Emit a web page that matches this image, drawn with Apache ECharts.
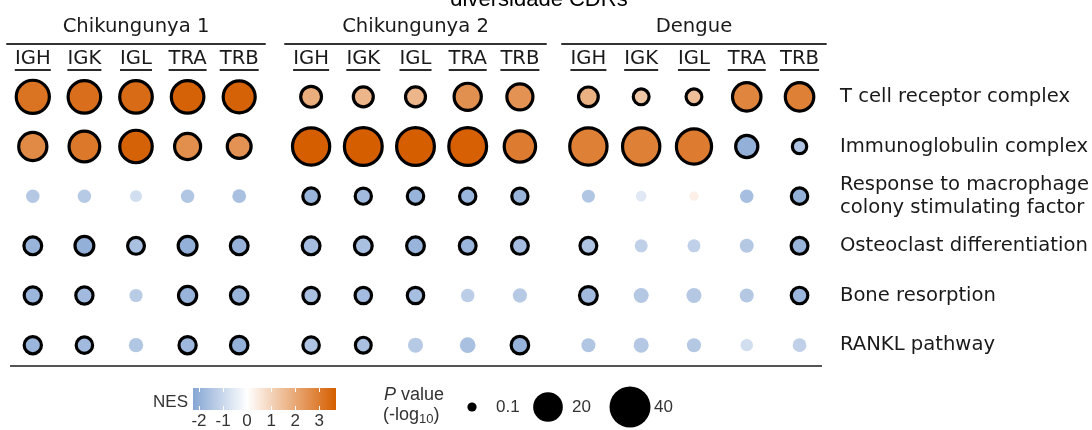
<!DOCTYPE html>
<html>
<head>
<meta charset="utf-8">
<script src="https://cdn.jsdelivr.net/npm/echarts@6/dist/echarts.min.js"></script>
<style>
  html, body { margin: 0; padding: 0; background: #ffffff; }
  #chart { width: 1092px; height: 430px; }
</style>
</head>
<body>
<div id="chart"></div>
<script>
// ---- data -------------------------------------------------------------
const groups = ['Chikungunya 1', 'Chikungunya 2', 'Dengue'];
const genes = ['IGH', 'IGK', 'IGL', 'TRA', 'TRB'];
const pathways = [
  'T cell receptor complex',
  'Immunoglobulin complex',
  'Response to macrophage\ncolony stimulating factor',
  'Osteoclast differentiation',
  'Bone resorption',
  'RANKL pathway'
];

// NES, rows = pathways, columns = genes
const nesChik1 = [
  [3.2, 3.3, 3.4, 3.6, 3.6],
  [2.7, 3.1, 3.6, 2.6, 2.5],
  [-1.4, -1.35, -0.85, -1.45, -1.6],
  [-1.9, -2.0, -1.6, -2.0, -1.95],
  [-1.85, -1.75, -1.3, -1.9, -1.9],
  [-1.85, -1.75, -1.45, -1.8, -2.0]
];
const nesChik2 = [
  [1.9, 1.7, 1.7, 2.55, 2.5],
  [3.7, 3.7, 3.7, 3.65, 3.0],
  [-1.9, -1.75, -1.9, -1.85, -1.9],
  [-1.7, -1.6, -1.9, -1.85, -1.7],
  [-1.6, -1.7, -1.65, -1.25, -1.35],
  [-1.5, -1.6, -1.35, -1.6, -1.95]
];
const nesDengue = [
  [1.8, 1.3, 1.5, 2.8, 2.9],
  [2.9, 2.9, 3.0, -2.0, -1.5],
  [-1.45, -0.6, 0.35, -1.65, -2.0],
  [-1.5, -1.2, -1.2, -1.4, -1.9],
  [-1.75, -1.4, -1.4, -1.4, -1.85],
  [-1.45, -1.4, -1.4, -0.85, -1.2]
];

// P value (-log10)
const pvalChik1 = [
  [31, 30, 30, 30, 29],
  [22.6, 26.7, 29.8, 19.4, 16.3],
  [2.5, 2.5, 1.5, 2.5, 2.7],
  [9, 10.1, 8, 10.1, 9],
  [8.4, 8.4, 2.3, 9.4, 8.7],
  [8.4, 7.6, 3.1, 8.4, 8.7]
];
const pvalChik2 = [
  [12.4, 11.4, 11.4, 21.1, 19.4],
  [38.8, 40, 40, 40, 27.9],
  [7.8, 7.4, 7.6, 7.5, 7.4],
  [9, 9, 9, 8, 8],
  [7.6, 7.6, 7.6, 2.6, 3.1],
  [7.6, 7, 3.6, 4.1, 8.7]
];
const pvalDengue = [
  [11.1, 7, 7, 23.1, 23.1],
  [39, 39, 34.8, 14.1, 5.7],
  [2.2, 0.8, 0.1, 2.5, 7.6],
  [8, 2.2, 2.2, 2.9, 8],
  [9, 3.6, 3.6, 2.9, 7.7],
  [2.9, 3.6, 2.9, 1.8, 2.7]
];

// significant enrichment (outlined dot)
const sigChik1 = [
  [1, 1, 1, 1, 1], [1, 1, 1, 1, 1], [0, 0, 0, 0, 0],
  [1, 1, 1, 1, 1], [1, 1, 0, 1, 1], [1, 1, 0, 1, 1]
];
const sigChik2 = [
  [1, 1, 1, 1, 1], [1, 1, 1, 1, 1], [1, 1, 1, 1, 1],
  [1, 1, 1, 1, 1], [1, 1, 1, 0, 0], [1, 1, 0, 0, 1]
];
const sigDengue = [
  [1, 1, 1, 1, 1], [1, 1, 1, 1, 1], [0, 0, 0, 0, 1],
  [1, 0, 0, 0, 1], [1, 0, 0, 0, 1], [0, 0, 0, 0, 0]
];

const nesTicks = [-2, -1, 0, 1, 2, 3];
const sizeLegendValues = [0.1, 20, 40];

// ---- scales ------------------------------------------------------------
const nesMin = -2.25, nesMax = 3.7;
const blueEnd = [134, 166, 212], orangeEnd = [213, 94, 0];
function nesColor(v) {
  const t = v < 0 ? Math.min(1, v / nesMin) : Math.min(1, v / nesMax);
  const end = v < 0 ? blueEnd : orangeEnd;
  return 'rgb(' + end.map(c => Math.round(255 + (c - 255) * t)).join(',') + ')';
}
const palette = Array.from({ length: 80 }, (_, i) => nesColor(nesMin + (nesMax - nesMin) * i / 79));

const BORDER = 3.2;
function dotDiameter(p) { return Math.sqrt(81 + 40 * p); }

// ---- layout ------------------------------------------------------------
const FONT = 'DejaVu Sans';
const LEGEND_FONT = 'Liberation Sans';
const TEXT = '#1a1a1a';
const LABEL_SIZE = 19.6;
const gridLeft = [7, 285, 562];
const gridWidth = [258, 261, 264];
const gridTop = 72, gridHeight = 298;

// underline width for each gene label = its text width
const measureCtx = document.createElement('canvas').getContext('2d');
measureCtx.font = LABEL_SIZE + 'px "' + FONT + '"';
const geneRich = { t: { fontFamily: FONT, fontSize: LABEL_SIZE, color: TEXT, lineHeight: 20 } };
genes.forEach(gn => {
  geneRich['u' + gn] = { width: Math.round(measureCtx.measureText(gn).width), height: 2, backgroundColor: '#2b2b2b' };
});

const nesSets = [nesChik1, nesChik2, nesDengue];
const pvalSets = [pvalChik1, pvalChik2, pvalDengue];
const sigSets = [sigChik1, sigChik2, sigDengue];

const grids = [], xAxes = [], yAxes = [], series = [];

groups.forEach((name, g) => {
  grids.push({ left: gridLeft[g], top: gridTop, width: gridWidth[g], height: gridHeight });

  // gene labels with underline
  xAxes.push({
    gridIndex: g, type: 'category', data: genes, position: 'top',
    axisLine: { show: false }, axisTick: { show: false }, splitLine: { show: false },
    axisLabel: {
      interval: 0, hideOverlap: false, margin: 1,
      formatter: v => '{t|' + v + '}\n{u' + v + '|}',
      rich: geneRich
    }
  });
  // group header line and title
  xAxes.push({
    gridIndex: g, type: 'category', data: genes, position: 'top', offset: 28,
    axisLine: { show: true, lineStyle: { color: '#333', width: 2 } },
    axisTick: { show: false }, axisLabel: { show: false }, splitLine: { show: false },
    name: name, nameLocation: 'middle', nameGap: 7,
    nameTextStyle: { fontFamily: FONT, fontSize: LABEL_SIZE, color: TEXT }
  });

  yAxes.push({
    gridIndex: g, type: 'category', data: pathways, inverse: true,
    position: 'right',
    axisLine: { show: false }, axisTick: { show: false }, splitLine: { show: false },
    axisLabel: g === 2 ? {
      show: true, interval: 0, margin: 14, align: 'left',
      fontFamily: FONT, fontSize: LABEL_SIZE, color: TEXT, lineHeight: 23
    } : { show: false }
  });

  const data = [];
  pathways.forEach((_, r) => {
    genes.forEach((_, c) => {
      const sig = sigSets[g][r][c];
      data.push({
        value: [c, r, nesSets[g][r][c], pvalSets[g][r][c], sig],
        itemStyle: { borderColor: '#000000', borderWidth: sig ? BORDER : 0 }
      });
    });
  });
  series.push({
    type: 'scatter', xAxisIndex: g * 2, yAxisIndex: g, data: data,
    symbol: 'circle',
    symbolSize: v => v[4] ? dotDiameter(v[3]) - BORDER : dotDiameter(v[3]),
    itemStyle: { opacity: 1 },
    encode: { x: 0, y: 1 },
    silent: true
  });
});

// colour bar for NES
grids.push({ left: 193, top: 388, width: 143, height: 27 });
xAxes.push({
  gridIndex: 3, type: 'value', min: nesMin, max: nesMax, position: 'bottom', z: 5,
  axisLine: { show: false }, splitLine: { show: false },
  axisTick: { show: true, inside: true, length: 4, lineStyle: { color: '#ffffff', width: 1 }, customValues: nesTicks },
  axisLabel: { customValues: nesTicks, margin: 3, fontFamily: LEGEND_FONT, fontSize: 17, color: '#333' }
});
xAxes.push({
  gridIndex: 3, type: 'value', min: nesMin, max: nesMax, position: 'top', z: 5,
  axisLine: { show: false }, splitLine: { show: false },
  axisTick: { show: true, inside: true, length: 4, lineStyle: { color: '#ffffff', width: 1 }, customValues: nesTicks },
  axisLabel: { show: false }
});
yAxes.push({ gridIndex: 3, type: 'value', min: 0, max: 1, show: false });
series.push({
  type: 'custom', xAxisIndex: 6, yAxisIndex: 3, silent: true, z: 1,
  data: [[nesMin, nesMax]],
  encode: { x: [0, 1] },
  renderItem: (params, api) => {
    const s = api.coord([api.value(0), 0]);
    const e = api.coord([api.value(1), 1]);
    return {
      type: 'rect',
      shape: { x: s[0], y: e[1], width: e[0] - s[0], height: s[1] - e[1] },
      style: {
        fill: new echarts.graphic.LinearGradient(0, 0, 1, 0,
          palette.map((c, i) => ({ offset: i / (palette.length - 1), color: c })))
      }
    };
  }
});

// size legend
const legendDotX = [472, 548, 630];
const legendY = 407;
const sizeLegend = [];
sizeLegendValues.forEach((p, i) => {
  const r = dotDiameter(p) / 2;
  sizeLegend.push({ type: 'circle', shape: { cx: legendDotX[i], cy: legendY, r: r }, style: { fill: '#000' } });
  sizeLegend.push({
    type: 'text', x: legendDotX[i] + 24, y: legendY,
    style: { text: String(p), fontFamily: LEGEND_FONT, fontSize: 17, fill: '#333', verticalAlign: 'middle' }
  });
});

const chart = echarts.init(document.getElementById('chart'), null, { renderer: 'canvas' });
chart.setOption({
  animation: false,
  backgroundColor: '#ffffff',
  grid: grids,
  xAxis: xAxes,
  yAxis: yAxes,
  visualMap: {
    type: 'continuous', show: false, dimension: 2, seriesIndex: [0, 1, 2],
    min: nesMin, max: nesMax, inRange: { color: palette }
  },
  series: series,
  graphic: [
    { type: 'text', x: 539, y: 11,
      style: { text: 'diversidade CDRs', fontFamily: LEGEND_FONT, fontSize: 22, fill: '#000', align: 'center', verticalAlign: 'bottom' } },
    { type: 'line', shape: { x1: 10, y1: 366, x2: 822, y2: 366 }, style: { stroke: '#555', lineWidth: 2 } },
    { type: 'text', x: 188, y: 402,
      style: { text: 'NES', fontFamily: LEGEND_FONT, fontSize: 17, fill: '#333', align: 'right', verticalAlign: 'middle' } },
    { type: 'text', x: 384, y: 395,
      style: { text: '{i|P} value', fontFamily: LEGEND_FONT, fontSize: 18, fill: '#333', verticalAlign: 'middle',
        rich: { i: { fontFamily: LEGEND_FONT, fontSize: 18, fontStyle: 'italic', fill: '#333' } } } },
    { type: 'text', x: 383, y: 415,
      style: { text: '(-log{s|10})', fontFamily: LEGEND_FONT, fontSize: 18, fill: '#333', verticalAlign: 'middle',
        rich: { s: { fontFamily: LEGEND_FONT, fontSize: 13, fill: '#333', padding: [8, 0, 0, 0] } } } }
  ].concat(sizeLegend)
});
</script>
</body>
</html>
